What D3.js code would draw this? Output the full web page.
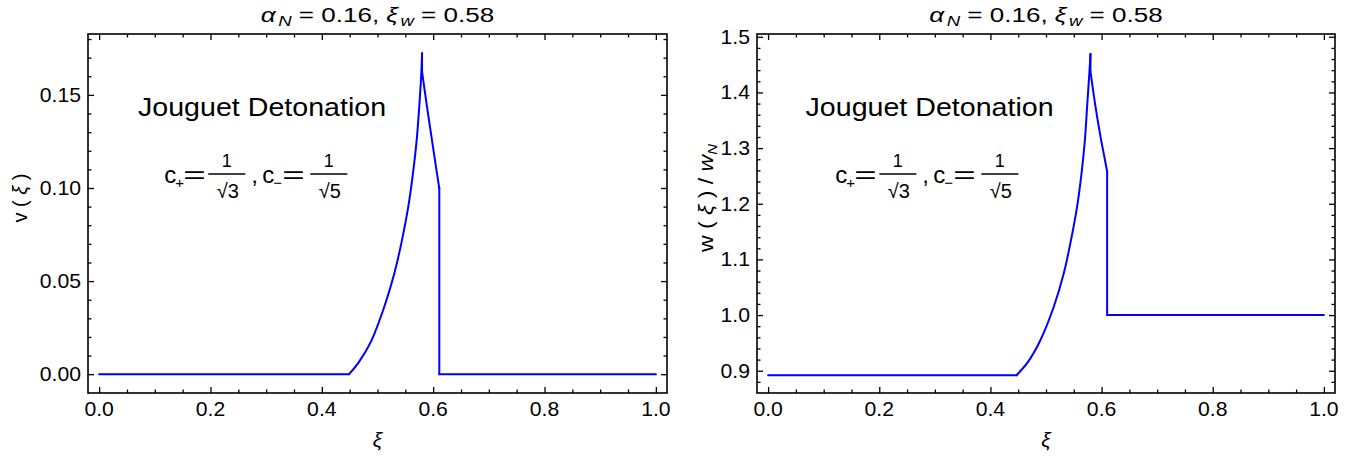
<!DOCTYPE html>
<html><head><meta charset="utf-8">
<script src="https://cdn.jsdelivr.net/npm/d3@7"></script>
<style>
body{margin:0;background:#fff}
text{font-family:"Liberation Sans",Arial,Helvetica,sans-serif;fill:#000}
</style>
</head><body>
<svg id="chart" width="1363" height="466"></svg>
<script>
// ---- data ----
const xiTicks = [0, 0.2, 0.4, 0.6, 0.8, 1.0];
const xiTickLabels = ["0.0", "0.2", "0.4", "0.6", "0.8", "1.0"];
const vTicks = [0, 0.05, 0.10, 0.15];
const vTickLabels = ["0.00", "0.05", "0.10", "0.15"];
const wTicks = [0.9, 1.0, 1.1, 1.2, 1.3, 1.4, 1.5];
const wTickLabels = ["0.9", "1.0", "1.1", "1.2", "1.3", "1.4", "1.5"];

// v(xi) profile
const vXi  = [0, 0.449, 0.4665, 0.4883, 0.5122, 0.5302, 0.544, 0.5553, 0.5637, 0.5704, 0.575, 0.5787, 0.58, 0.58, 0.5889, 0.5978, 0.6068, 0.611, 0.611, 1.0];
const vVal = [0, 0, 0.0065, 0.0175, 0.0362, 0.0541, 0.0720, 0.0900, 0.1079, 0.1258, 0.1437, 0.1617, 0.1724, 0.1625, 0.1437, 0.1258, 0.1079, 0.0998, 0, 0];

// w(xi)/w_N profile
const wXi  = [0, 0.447, 0.467, 0.489, 0.514, 0.532, 0.545, 0.556, 0.564, 0.570, 0.574, 0.578, 0.58, 0.58, 0.589, 0.598, 0.606, 0.610, 0.610, 1.0];
const wVal = [0.892, 0.892, 0.915, 0.953, 1.015, 1.075, 1.135, 1.195, 1.255, 1.315, 1.375, 1.435, 1.469, 1.438, 1.375, 1.321, 1.279, 1.258, 1.0, 1.0];

const titleAlpha = "0.16", titleXiW = "0.58";
const annotText = "Jouguet Detonation";

// ---- layout ----
const svg = d3.select("#chart");

const panels = [
  {left: 88, right: 667, xs: vXi, ys: vVal, yDomain: [-0.0101, 0.1827], yTicks: vTicks, yLabels: vTickLabels,
   yMinorStep: 0.01, yMinorStart: 0.0, ylab: "v", lx: 27, lsx: 1.0, annot: [0.2926, 0.1387], formula: [0.117, 0.1027]},
  {left: 757, right: 1335, xs: wXi, ys: wVal, yDomain: [0.86, 1.505], yTicks: wTicks, yLabels: wTickLabels,
   yMinorStep: 0.02, yMinorStart: 0.88, ylab: "w", lx: 713, lsx: 1.15, annot: [0.2905, 1.3577], formula: [0.121, 1.2373]}
];
const plotTop = 34, plotBottom = 393;

function txt(parent, x, y, s, size, anchor, sx) {
  return parent.append("text")
    .attr("transform", `translate(${x},${y}) scale(${sx || 1},1)`)
    .attr("text-anchor", anchor || "start").attr("font-size", size).text(s);
}

panels.forEach((p, pi) => {
  const x = d3.scaleLinear().domain([-0.02, 1.02]).range([p.left, p.right]);
  const y = d3.scaleLinear().domain(p.yDomain).range([plotBottom, plotTop]);
  const g = svg.append("g");

  const xMinor = d3.range(0, 1.0001, 0.05).filter(v => Math.abs(v*5 - Math.round(v*5)) > 1e-6);
  const yMinor = d3.range(p.yMinorStart, p.yDomain[1], p.yMinorStep)
      .filter(v => v > p.yDomain[0] + 1e-4 && v < p.yDomain[1] - 1e-4)
      .filter(v => !p.yTicks.some(t => Math.abs(t - v) < 1e-6));

  [[plotBottom, "axisBottom"], [plotTop, "axisTop"]].forEach(([yy, o]) => {
    g.append("g").attr("transform", `translate(0,${yy})`).call(d3[o](x).tickValues(xiTicks).tickSize(-6).tickSizeOuter(0).tickFormat(""));
    g.append("g").attr("transform", `translate(0,${yy})`).call(d3[o](x).tickValues(xMinor).tickSize(-3.5).tickSizeOuter(0).tickFormat(""));
  });
  [[p.left, "axisLeft"], [p.right, "axisRight"]].forEach(([xx, o]) => {
    g.append("g").attr("transform", `translate(${xx},0)`).call(d3[o](y).tickValues(p.yTicks).tickSize(-6).tickSizeOuter(0).tickFormat(""));
    g.append("g").attr("transform", `translate(${xx},0)`).call(d3[o](y).tickValues(yMinor).tickSize(-3.5).tickSizeOuter(0).tickFormat(""));
  });
  g.selectAll(".domain").remove();
  g.selectAll(".tick line").attr("stroke", "#000").attr("stroke-width", 1.3);

  // tick labels
  xiTicks.forEach((v, i) => txt(g, x(v), 416, xiTickLabels[i], 20, "middle", 1.06));
  p.yTicks.forEach((v, i) => txt(g, p.left - 7, y(v) + 7, p.yLabels[i], 20, "end", 1.06));

  // frame
  g.append("rect").attr("x", p.left).attr("y", plotTop).attr("width", p.right - p.left).attr("height", plotBottom - plotTop)
    .attr("fill", "none").attr("stroke", "#000").attr("stroke-width", 1.6);

  // curve: smooth runs between corners (jumps / kinks), straight elsewhere
  const pts = p.xs.map((d, i) => [d, p.ys[i]]);
  const n = pts.length;
  const corner = i => i === 0 || i === n - 1 ||
    pts[i][0] === pts[i-1][0] || pts[i][0] === pts[i+1][0] ||
    pts[i][1] === pts[i-1][1] || pts[i][1] === pts[i+1][1];
  const line = d3.line().x(d => x(d[0])).y(d => y(d[1])).curve(d3.curveCatmullRom.alpha(0.5));
  let start = 0;
  for (let i = 1; i < n; i++) {
    if (corner(i)) {
      g.append("path").datum(pts.slice(start, i + 1)).attr("d", line)
        .attr("fill", "none").attr("stroke", "#0000ff").attr("stroke-width", 2)
        .attr("stroke-linejoin", "round").attr("stroke-linecap", "round");
      start = i;
    }
  }

  // title
  const cx = (p.left + p.right) / 2;
  const t = txt(g, cx, 22, "", 21, "middle", 1.24);
  t.append("tspan").attr("font-style", "italic").text("α");
  t.append("tspan").attr("font-style", "italic").attr("font-size", 15).attr("dy", 4).attr("dx", 2).text("N");
  t.append("tspan").attr("dy", -4).text(" = " + titleAlpha + ", ");
  t.append("tspan").attr("font-style", "italic").text("ξ");
  t.append("tspan").attr("font-style", "italic").attr("font-size", 15).attr("dy", 4).attr("dx", 2).text("w");
  t.append("tspan").attr("dy", -4).text(" = " + titleXiW);

  // x label
  txt(g, cx, 447, "ξ", 21, "middle").attr("font-style", "italic");

  // y label
  const ly = 198;
  const yt = g.append("text").attr("transform", `translate(${p.lx},${ly}) rotate(-90) scale(${p.lsx},1)`).attr("text-anchor", "middle").attr("font-size", 20);
  yt.append("tspan").text(p.ylab + " ( ");
  yt.append("tspan").attr("font-style", "italic").text("ξ");
  yt.append("tspan").text(" )");
  if (pi === 1) {
    yt.append("tspan").text(" / ");
    yt.append("tspan").attr("font-style", "italic").text("w");
    yt.append("tspan").attr("font-style", "italic").attr("font-size", 13).attr("dy", 4).text("N");
  }

  // annotation
  txt(g, x(p.annot[0]), y(p.annot[1]), annotText, 26, "middle", 1.1);

  // formula  c+ = 1/sqrt3 , c- = 1/sqrt5
  const f = g.append("g").attr("transform", `translate(${x(p.formula[0])},${y(p.formula[1])})`);
  function frac(x0, w, d) {
    txt(f, x0 + w / 2, -16, "1", 18, "middle");
    f.append("line").attr("x1", x0).attr("x2", x0 + w).attr("y1", -9).attr("y2", -9).attr("stroke", "#000").attr("stroke-width", 1.4);
    txt(f, x0 + w / 2 + 1, 15, "√" + d, 20, "middle");
  }
  txt(f, 0, 0, "c", 24);
  txt(f, 11, 5, "+", 15);
  txt(f, 19, 0, "=", 24, "start", 1.6);
  frac(44, 37, "3");
  txt(f, 87, 0, ",", 24);
  txt(f, 98, 0, "c", 24);
  txt(f, 109, 5, "−", 15);
  txt(f, 118, 0, "=", 24, "start", 1.6);
  frac(146, 37, "5");
});
</script>
</body></html>
